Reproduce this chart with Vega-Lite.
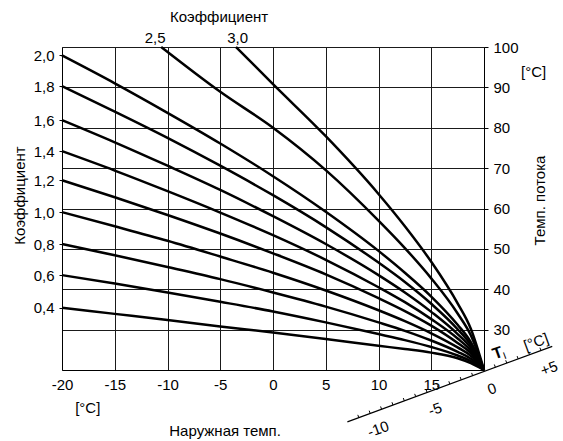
{
  "$schema": "https://vega.github.io/schema/vega-lite/v6.json",
  "width": 422,
  "height": 323,
  "autosize": {"type": "none"},
  "padding": {"left": 62, "top": 47, "right": 79, "bottom": 71},
  "background": "white",
  "config": {
    "font": "Liberation Sans",
    "view": {"stroke": null},
    "axis": {
      "labelFont": "Liberation Sans", "titleFont": "Liberation Sans",
      "labelColor": "#000", "titleColor": "#000", "domainColor": "#000", "tickColor": "#000",
      "gridColor": "#1a1a1a", "gridOpacity": 1, "gridWidth": 1,
      "labelFontSize": 15, "titleFontSize": 15, "titleFontWeight": "normal"
    }
  },
  "datasets": {
    "curves": [
      {"x": -20, "y": 35.4, "k": "0.4"}, {"x": -15, "y": 33.9, "k": "0.4"}, {"x": -10, "y": 32.4, "k": "0.4"}, {"x": -5, "y": 30.8, "k": "0.4"}, {"x": 0, "y": 29.3, "k": "0.4"}, {"x": 5, "y": 27.7, "k": "0.4"}, {"x": 10, "y": 26.0, "k": "0.4"}, {"x": 12.5, "y": 25.2, "k": "0.4"}, {"x": 15, "y": 24.3, "k": "0.4"}, {"x": 17.5, "y": 22.9, "k": "0.4"}, {"x": 18.75, "y": 21.7, "k": "0.4"}, {"x": 20, "y": 20, "k": "0.4"},
      {"x": -20, "y": 43.5, "k": "0.6"}, {"x": -15, "y": 41.4, "k": "0.6"}, {"x": -10, "y": 39.2, "k": "0.6"}, {"x": -5, "y": 36.9, "k": "0.6"}, {"x": 0, "y": 34.5, "k": "0.6"}, {"x": 5, "y": 31.8, "k": "0.6"}, {"x": 10, "y": 28.9, "k": "0.6"}, {"x": 12.5, "y": 27.4, "k": "0.6"}, {"x": 15, "y": 25.7, "k": "0.6"}, {"x": 17.5, "y": 23.6, "k": "0.6"}, {"x": 18.75, "y": 22.2, "k": "0.6"}, {"x": 20, "y": 20, "k": "0.6"},
      {"x": -20, "y": 51.2, "k": "0.8"}, {"x": -15, "y": 48.4, "k": "0.8"}, {"x": -10, "y": 45.5, "k": "0.8"}, {"x": -5, "y": 42.5, "k": "0.8"}, {"x": 0, "y": 39.2, "k": "0.8"}, {"x": 5, "y": 35.7, "k": "0.8"}, {"x": 10, "y": 31.8, "k": "0.8"}, {"x": 12.5, "y": 29.7, "k": "0.8"}, {"x": 15, "y": 27.3, "k": "0.8"}, {"x": 17.5, "y": 24.5, "k": "0.8"}, {"x": 18.75, "y": 22.8, "k": "0.8"}, {"x": 20, "y": 20, "k": "0.8"},
      {"x": -20, "y": 59.1, "k": "1.0"}, {"x": -15, "y": 55.6, "k": "1.0"}, {"x": -10, "y": 52.0, "k": "1.0"}, {"x": -5, "y": 48.1, "k": "1.0"}, {"x": 0, "y": 44.1, "k": "1.0"}, {"x": 5, "y": 39.7, "k": "1.0"}, {"x": 10, "y": 34.8, "k": "1.0"}, {"x": 12.5, "y": 32.1, "k": "1.0"}, {"x": 15, "y": 29.1, "k": "1.0"}, {"x": 17.5, "y": 25.6, "k": "1.0"}, {"x": 18.75, "y": 23.5, "k": "1.0"}, {"x": 20, "y": 20, "k": "1.0"},
      {"x": -20, "y": 67.0, "k": "1.2"}, {"x": -15, "y": 62.8, "k": "1.2"}, {"x": -10, "y": 58.4, "k": "1.2"}, {"x": -5, "y": 53.8, "k": "1.2"}, {"x": 0, "y": 48.9, "k": "1.2"}, {"x": 5, "y": 43.7, "k": "1.2"}, {"x": 10, "y": 37.8, "k": "1.2"}, {"x": 12.5, "y": 34.6, "k": "1.2"}, {"x": 15, "y": 31.0, "k": "1.2"}, {"x": 17.5, "y": 26.7, "k": "1.2"}, {"x": 18.75, "y": 24.2, "k": "1.2"}, {"x": 20, "y": 20, "k": "1.2"},
      {"x": -20, "y": 74.2, "k": "1.4"}, {"x": -15, "y": 69.4, "k": "1.4"}, {"x": -10, "y": 64.3, "k": "1.4"}, {"x": -5, "y": 59.0, "k": "1.4"}, {"x": 0, "y": 53.4, "k": "1.4"}, {"x": 5, "y": 47.3, "k": "1.4"}, {"x": 10, "y": 40.5, "k": "1.4"}, {"x": 12.5, "y": 36.8, "k": "1.4"}, {"x": 15, "y": 32.6, "k": "1.4"}, {"x": 17.5, "y": 27.8, "k": "1.4"}, {"x": 18.75, "y": 24.8, "k": "1.4"}, {"x": 20, "y": 20, "k": "1.4"},
      {"x": -20, "y": 81.9, "k": "1.6"}, {"x": -15, "y": 76.4, "k": "1.6"}, {"x": -10, "y": 70.6, "k": "1.6"}, {"x": -5, "y": 64.6, "k": "1.6"}, {"x": 0, "y": 58.1, "k": "1.6"}, {"x": 5, "y": 51.2, "k": "1.6"}, {"x": 10, "y": 43.5, "k": "1.6"}, {"x": 12.5, "y": 39.2, "k": "1.6"}, {"x": 15, "y": 34.4, "k": "1.6"}, {"x": 17.5, "y": 28.9, "k": "1.6"}, {"x": 18.75, "y": 25.5, "k": "1.6"}, {"x": 20, "y": 20, "k": "1.6"},
      {"x": -20, "y": 90.3, "k": "1.8"}, {"x": -15, "y": 84.0, "k": "1.8"}, {"x": -10, "y": 77.5, "k": "1.8"}, {"x": -5, "y": 70.6, "k": "1.8"}, {"x": 0, "y": 63.3, "k": "1.8"}, {"x": 5, "y": 55.4, "k": "1.8"}, {"x": 10, "y": 46.6, "k": "1.8"}, {"x": 12.5, "y": 41.8, "k": "1.8"}, {"x": 15, "y": 36.4, "k": "1.8"}, {"x": 17.5, "y": 30.1, "k": "1.8"}, {"x": 18.75, "y": 26.2, "k": "1.8"}, {"x": 20, "y": 20, "k": "1.8"},
      {"x": -20, "y": 97.9, "k": "2.0"}, {"x": -15, "y": 91.0, "k": "2.0"}, {"x": -10, "y": 83.7, "k": "2.0"}, {"x": -5, "y": 76.1, "k": "2.0"}, {"x": 0, "y": 68.0, "k": "2.0"}, {"x": 5, "y": 59.2, "k": "2.0"}, {"x": 10, "y": 49.5, "k": "2.0"}, {"x": 12.5, "y": 44.1, "k": "2.0"}, {"x": 15, "y": 38.2, "k": "2.0"}, {"x": 17.5, "y": 31.2, "k": "2.0"}, {"x": 18.75, "y": 26.9, "k": "2.0"}, {"x": 20, "y": 20, "k": "2.0"},
      {"x": -10.6, "y": 100, "k": "2.5"}, {"x": -5, "y": 88.9, "k": "2.5"}, {"x": 0, "y": 80.0, "k": "2.5"}, {"x": 5, "y": 69.5, "k": "2.5"}, {"x": 10, "y": 57.0, "k": "2.5"}, {"x": 12.5, "y": 50.2, "k": "2.5"}, {"x": 15, "y": 42.7, "k": "2.5"}, {"x": 17.5, "y": 34.0, "k": "2.5"}, {"x": 18.75, "y": 28.6, "k": "2.5"}, {"x": 20, "y": 20, "k": "2.5"},
      {"x": -3.5, "y": 100, "k": "3.0"}, {"x": 0, "y": 90.8, "k": "3.0"}, {"x": 5, "y": 77.9, "k": "3.0"}, {"x": 10, "y": 63.6, "k": "3.0"}, {"x": 12.5, "y": 55.6, "k": "3.0"}, {"x": 15, "y": 46.8, "k": "3.0"}, {"x": 17.5, "y": 36.5, "k": "3.0"}, {"x": 18.75, "y": 30.2, "k": "3.0"}, {"x": 20, "y": 20, "k": "3.0"}
    ],
    "diag": [{"x": 7.05, "y": 7.16, "x2": 26.47, "y2": 25.86}],
    "ticks": [
      {"x": 8.13, "y": 8.20, "x2": 8.04, "y2": 8.89},
      {"x": 9.21, "y": 9.24, "x2": 9.12, "y2": 9.93},
      {"x": 10.29, "y": 10.28, "x2": 10.20, "y2": 10.97},
      {"x": 11.37, "y": 11.32, "x2": 11.28, "y2": 12.01},
      {"x": 12.45, "y": 12.36, "x2": 12.35, "y2": 13.05},
      {"x": 13.53, "y": 13.40, "x2": 13.43, "y2": 14.09},
      {"x": 14.61, "y": 14.44, "x2": 14.51, "y2": 15.13},
      {"x": 15.68, "y": 15.47, "x2": 15.59, "y2": 16.16},
      {"x": 16.76, "y": 16.51, "x2": 16.67, "y2": 17.20},
      {"x": 17.84, "y": 17.55, "x2": 17.75, "y2": 18.24},
      {"x": 18.92, "y": 18.59, "x2": 18.83, "y2": 19.28},
      {"x": 21.08, "y": 20.67, "x2": 20.98, "y2": 21.36},
      {"x": 22.16, "y": 21.71, "x2": 22.06, "y2": 22.40},
      {"x": 23.24, "y": 22.75, "x2": 23.14, "y2": 23.44},
      {"x": 24.32, "y": 23.79, "x2": 24.22, "y2": 24.48},
      {"x": 25.40, "y": 24.83, "x2": 25.30, "y2": 25.52}
    ],
    "labels": [
      {"x": -5.11, "y": 107.46, "t": "Коэффициент"},
      {"x": -11.17, "y": 102.3, "t": "2,5"},
      {"x": -3.36, "y": 102.3, "t": "3,0"},
      {"x": 24.7, "y": 93.85, "t": "[°C]"},
      {"x": -17.56, "y": 10.6, "t": "[°C]"},
      {"x": -4.54, "y": 5.0, "t": "Наружная темп."}
    ],
    "dlabels": [
      {"x": 9.97, "y": 5.35, "t": "-10"},
      {"x": 15.37, "y": 10.3, "t": "-5"},
      {"x": 20.76, "y": 15.3, "t": "0"},
      {"x": 26.16, "y": 20.4, "t": "+5"},
      {"x": 24.93, "y": 26.93, "t": "[°C]"}
    ],
    "tl": [{"x": 21.3, "y": 24.2, "t": "T"}],
    "tsub": [{"x": 21.96, "y": 23.46, "t": "I"}]
  },
  "layer": [
    {
      "data": {"name": "curves"},
      "mark": {"type": "line", "color": "#000", "strokeWidth": 2.5, "interpolate": "monotone"},
      "encoding": {
        "x": {"field": "x", "type": "quantitative", "scale": {"domain": [-20, 20], "nice": false, "zero": false},
          "axis": {"title": null, "values": [-20, -15, -10, -5, 0, 5, 10, 15, 20], "grid": true, "ticks": false, "labelPadding": 7,
            "labelExpr": "datum.value == 20 ? '' : toString(datum.value)", "labelFlush": false, "labelOverlap": false}},
        "y": {"field": "y", "type": "quantitative", "scale": {"domain": [20, 100], "nice": false, "zero": false},
          "axis": {"orient": "left", "title": "Коэффициент", "grid": false, "tickSize": 3, "labelPadding": 5,
            "values": [35.4, 43.5, 51.2, 59.1, 67.0, 74.2, 81.9, 90.3, 97.9],
            "labelExpr": "datum.value < 40 ? '0,4' : datum.value < 47 ? '0,6' : datum.value < 55 ? '0,8' : datum.value < 63 ? '1,0' : datum.value < 70 ? '1,2' : datum.value < 78 ? '1,4' : datum.value < 86 ? '1,6' : datum.value < 94 ? '1,8' : '2,0'",
            "labelFlush": false, "labelOverlap": false,
            "titleAngle": 270, "titleX": -43, "titleY": 148, "titleAlign": "center", "titleBaseline": "middle"}},
        "detail": {"field": "k", "type": "nominal"}
      }
    },
    {
      "data": {"name": "diag"},
      "mark": {"type": "rule", "color": "#000", "strokeWidth": 1.2},
      "encoding": {
        "x": {"field": "x", "type": "quantitative", "scale": {"domain": [-20, 20]}, "axis": null},
        "y": {"field": "y", "type": "quantitative", "scale": {"domain": [20, 100]},
          "axis": {"orient": "right", "title": "Темп. потока", "values": [30, 40, 50, 60, 70, 80, 90, 100], "grid": true,
            "tickSize": 4, "labelPadding": 5, "labelFlush": false, "labelOverlap": false,
            "titleAngle": 270, "titleX": 55, "titleY": 153, "titleAlign": "center", "titleBaseline": "middle"}},
        "x2": {"field": "x2"},
        "y2": {"field": "y2"}
      }
    },
    {
      "data": {"name": "ticks"},
      "mark": {"type": "rule", "color": "#000", "strokeWidth": 1},
      "encoding": {
        "x": {"field": "x", "type": "quantitative", "scale": {"domain": [-20, 20]}, "axis": null},
        "y": {"field": "y", "type": "quantitative", "scale": {"domain": [20, 100]}, "axis": null},
        "x2": {"field": "x2"},
        "y2": {"field": "y2"}
      }
    },
    {
      "data": {"name": "labels"},
      "mark": {"type": "text", "fontSize": 15, "align": "center", "baseline": "middle", "color": "#000"},
      "encoding": {
        "x": {"field": "x", "type": "quantitative", "scale": {"domain": [-20, 20]}, "axis": null},
        "y": {"field": "y", "type": "quantitative", "scale": {"domain": [20, 100]}, "axis": null},
        "text": {"field": "t"}
      }
    },
    {
      "data": {"name": "dlabels"},
      "mark": {"type": "text", "fontSize": 15, "align": "center", "baseline": "middle", "angle": -20, "color": "#000"},
      "encoding": {
        "x": {"field": "x", "type": "quantitative", "scale": {"domain": [-20, 20]}, "axis": null},
        "y": {"field": "y", "type": "quantitative", "scale": {"domain": [20, 100]}, "axis": null},
        "text": {"field": "t"}
      }
    },
    {
      "data": {"name": "tl"},
      "mark": {"type": "text", "fontSize": 16, "fontWeight": "bold", "align": "center", "baseline": "middle", "angle": -20, "color": "#000"},
      "encoding": {
        "x": {"field": "x", "type": "quantitative", "scale": {"domain": [-20, 20]}, "axis": null},
        "y": {"field": "y", "type": "quantitative", "scale": {"domain": [20, 100]}, "axis": null},
        "text": {"field": "t"}
      }
    },
    {
      "data": {"name": "tsub"},
      "mark": {"type": "text", "fontSize": 10, "align": "center", "baseline": "middle", "angle": -20, "color": "#000"},
      "encoding": {
        "x": {"field": "x", "type": "quantitative", "scale": {"domain": [-20, 20]}, "axis": null},
        "y": {"field": "y", "type": "quantitative", "scale": {"domain": [20, 100]}, "axis": null},
        "text": {"field": "t"}
      }
    }
  ],
  "resolve": {"axis": {"x": "independent", "y": "independent"}}
}
